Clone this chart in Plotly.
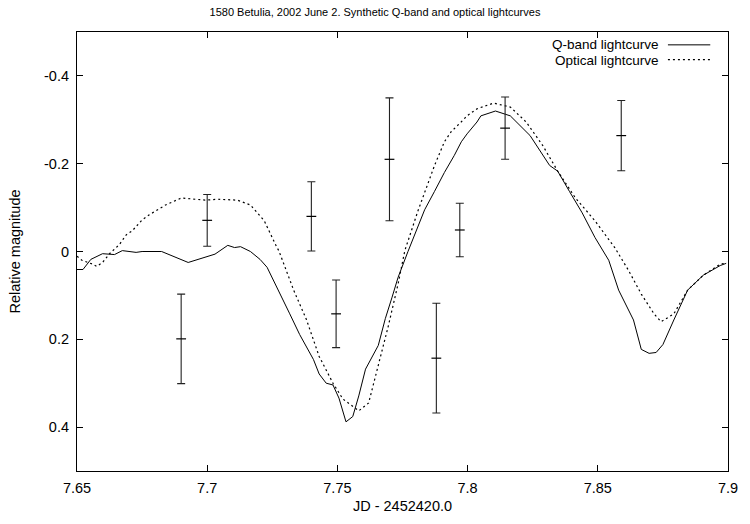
import plotly.graph_objects as go

# Q-band synthetic lightcurve (solid)
q_jd = [7.650, 7.6523, 7.6553, 7.6598, 7.6644, 7.6674, 7.6727, 7.6750, 7.6825, 7.6927,
        7.7030, 7.7079, 7.7105, 7.7128, 7.7166, 7.7203, 7.7230, 7.7268, 7.7317, 7.7355,
        7.7408, 7.7430, 7.7457, 7.7483, 7.7506, 7.7533, 7.7559, 7.7582, 7.7608, 7.7657,
        7.7684, 7.7710, 7.7733, 7.7771, 7.7809, 7.7835, 7.7873, 7.7899, 7.7911, 7.7949,
        7.7976, 7.7998, 7.8036, 7.8051, 7.8107, 7.8164, 7.8240, 7.8315, 7.8346, 7.8391,
        7.8440, 7.8489, 7.8542, 7.8580, 7.8637, 7.8667, 7.8697, 7.8724, 7.8750, 7.8792,
        7.8845, 7.8905, 7.8970, 7.8993]
q_mag = [0.041, 0.041, 0.018, 0.005, 0.007, -0.002, 0.002, 0.000, 0.000, 0.025,
         0.006, -0.014, -0.009, -0.011, 0.000, 0.018, 0.036, 0.081, 0.142, 0.189,
         0.246, 0.279, 0.300, 0.304, 0.334, 0.388, 0.376, 0.329, 0.268, 0.214,
         0.153, 0.104, 0.059, 0.000, -0.054, -0.095, -0.137, -0.167, -0.180, -0.219,
         -0.250, -0.268, -0.295, -0.309, -0.320, -0.309, -0.264, -0.196, -0.183, -0.137,
         -0.088, -0.032, 0.020, 0.088, 0.156, 0.223, 0.232, 0.230, 0.212, 0.156,
         0.088, 0.054, 0.032, 0.027]

# Optical synthetic lightcurve (dotted)
o_jd = [7.650, 7.6519, 7.6561, 7.6576, 7.6598, 7.6625, 7.6663, 7.6689, 7.6712, 7.6750,
        7.6776, 7.6840, 7.6901, 7.6992, 7.7041, 7.7116, 7.7166, 7.7219, 7.7268, 7.7275,
        7.7332, 7.7381, 7.7430, 7.7483, 7.7521, 7.7582, 7.7620, 7.7657, 7.7695, 7.7733,
        7.7759, 7.7809, 7.7873, 7.7911, 7.7937, 7.7975, 7.7998, 7.8036, 7.8055, 7.8100,
        7.8164, 7.8225, 7.8289, 7.8346, 7.8414, 7.8489, 7.8565, 7.8618, 7.8667, 7.8716,
        7.8743, 7.8792, 7.8845, 7.8905, 7.8970, 7.8993]
o_mag = [0.011, 0.020, 0.029, 0.034, 0.025, 0.005, -0.016, -0.038, -0.047, -0.072,
         -0.083, -0.106, -0.122, -0.117, -0.119, -0.117, -0.106, -0.070, -0.009, -0.002,
         0.088, 0.155, 0.239, 0.300, 0.336, 0.363, 0.345, 0.261, 0.171, 0.074,
         -0.002, -0.092, -0.196, -0.250, -0.273, -0.295, -0.309, -0.325, -0.329, -0.338,
         -0.329, -0.295, -0.241, -0.183, -0.122, -0.070, -0.009, 0.043, 0.097, 0.142,
         0.160, 0.142, 0.088, 0.054, 0.029, 0.026]

# Q-band observations with error bars
obs_jd = [7.690, 7.700, 7.740, 7.7495, 7.770, 7.788, 7.797, 7.8144, 7.859]
obs_mag = [0.199, -0.071, -0.080, 0.142, -0.210, 0.243, -0.049, -0.281, -0.264]
obs_err = [0.102, 0.059, 0.079, 0.077, 0.140, 0.125, 0.061, 0.071, 0.080]

x_ticks = [7.65, 7.70, 7.75, 7.80, 7.85, 7.90]
x_labels = ["7.65", "7.7", "7.75", "7.8", "7.85", "7.9"]
y_ticks = [-0.4, -0.2, 0.0, 0.2, 0.4]
y_labels = ["-0.4", "-0.2", "0", "0.2", "0.4"]

FONT = "Liberation Sans, Arial, Helvetica, sans-serif"
FS = 14.5
KEY_FS = 13.5

fig = go.Figure()
fig.add_trace(go.Scatter(x=q_jd, y=q_mag, mode="lines",
                         line=dict(color="black", width=1), showlegend=False))
fig.add_trace(go.Scatter(x=o_jd, y=o_mag, mode="lines",
                         line=dict(color="black", width=1.2, dash="2px,3px"),
                         showlegend=False))
fig.add_trace(go.Scatter(x=obs_jd, y=obs_mag, mode="markers",
                         marker=dict(symbol="line-ew", size=7,
                                     line=dict(color="black", width=1.2)),
                         error_y=dict(type="data", array=obs_err, visible=True,
                                      color="#222", thickness=1.1, width=4),
                         showlegend=False))

axis_common = dict(showline=True, linecolor="black", linewidth=1.2, mirror="ticks",
                   ticks="inside", ticklen=6, tickwidth=1, tickcolor="black",
                   showgrid=False, zeroline=False,
                   tickfont=dict(family=FONT, size=FS, color="black"))

fig.update_xaxes(range=[7.65, 7.90], tickvals=x_ticks, ticktext=x_labels,
                 ticklabelstandoff=3,
                 title=dict(text="JD - 2452420.0", font=dict(family=FONT, size=FS, color="black"),
                            standoff=6),
                 **axis_common)
fig.update_yaxes(range=[0.5, -0.5], tickvals=y_ticks, ticktext=y_labels,
                 ticklabelstandoff=4,
                 title=dict(text="Relative magnitude", font=dict(family=FONT, size=FS, color="black"),
                            standoff=19),
                 **axis_common)

# gnuplot-style key (top right)
KEY_Y1, KEY_Y2 = 44.5, 60.5
fig.add_annotation(xref="paper", yref="paper", x=(669 - 77) / 661, y=(476 - KEY_Y1) / 444,
                   text="Q-band lightcurve", showarrow=False, xanchor="right", yanchor="middle",
                   borderpad=0, font=dict(family=FONT, size=KEY_FS, color="black"))
fig.add_annotation(xref="paper", yref="paper", x=(669 - 77) / 661, y=(476 - KEY_Y2) / 444,
                   text="Optical lightcurve", showarrow=False, xanchor="right", yanchor="middle",
                   borderpad=0, font=dict(family=FONT, size=KEY_FS, color="black"))
fig.add_shape(type="line", xref="paper", yref="paper",
              x0=(677 - 77) / 661, x1=(720 - 77) / 661,
              y0=(476 - KEY_Y1 - 0.5) / 444, y1=(476 - KEY_Y1 - 0.5) / 444,
              line=dict(color="black", width=1))
fig.add_shape(type="line", xref="paper", yref="paper",
              x0=(677 - 77) / 661, x1=(720 - 77) / 661,
              y0=(476 - KEY_Y2 + 0.5) / 444, y1=(476 - KEY_Y2 + 0.5) / 444,
              line=dict(color="black", width=1.2, dash="2px,3px"))

fig.update_layout(
    width=750, height=524,
    margin=dict(l=77, r=12, t=32, b=48),
    paper_bgcolor="white", plot_bgcolor="white",
    title=dict(text="1580 Betulia, 2002 June 2. Synthetic Q-band and optical lightcurves",
               x=0.5, xref="container", y=1 - 12 / 524, yref="container", yanchor="middle",
               font=dict(family=FONT, size=11, color="black")),
    font=dict(family=FONT),
)

fig.write_html("out.html", config={"displayModeBar": False},
               post_script="document.body.style.margin='0';")
